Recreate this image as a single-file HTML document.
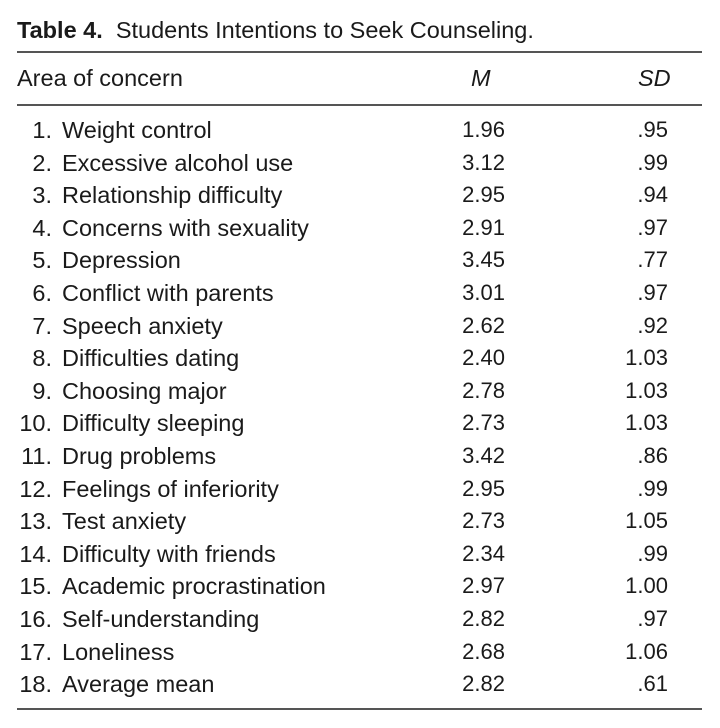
<!DOCTYPE html>
<html><head><style>
body{margin:0;width:720px;height:728px;background:#fff;position:relative;font-family:"Liberation Sans",sans-serif;color:#1a1a1a;overflow:hidden}
.t{position:absolute;font-size:23.5px;line-height:32px;white-space:nowrap}
.r{position:absolute;left:17px;width:685px;height:2px;background:#555}
.n{text-align:right;width:40px;left:12px}
.m{text-align:right;width:80px;left:425px;font-size:22px}
.s{text-align:right;width:80px;left:588px;font-size:22px}
</style></head><body>
<div class="t" style="left:17px;top:14px;font-size:23.5px"><b>Table 4.</b>&nbsp; Students Intentions to Seek Counseling.</div>
<div class="r" style="top:51px"></div>
<div class="t" style="left:17px;top:62px">Area of concern</div>
<div class="t" style="left:471px;top:62px;font-style:italic">M</div>
<div class="t" style="left:638px;top:62px;font-style:italic">SD</div>
<div class="r" style="top:104px"></div>
<div id="rows"></div>
<div class="r" style="top:708px"></div>
<script>
var d=[["Weight control","1.96",".95"],["Excessive alcohol use","3.12",".99"],["Relationship difficulty","2.95",".94"],["Concerns with sexuality","2.91",".97"],["Depression","3.45",".77"],["Conflict with parents","3.01",".97"],["Speech anxiety","2.62",".92"],["Difficulties dating","2.40","1.03"],["Choosing major","2.78","1.03"],["Difficulty sleeping","2.73","1.03"],["Drug problems","3.42",".86"],["Feelings of inferiority","2.95",".99"],["Test anxiety","2.73","1.05"],["Difficulty with friends","2.34",".99"],["Academic procrastination","2.97","1.00"],["Self-understanding","2.82",".97"],["Loneliness","2.68","1.06"],["Average mean","2.82",".61"]];
var h="";
d.forEach(function(r,i){var y=114+i*32.6;
h+='<div class="t n" style="top:'+y+'px">'+(i+1)+'.</div><div class="t" style="left:62px;top:'+y+'px">'+r[0]+'</div><div class="t m" style="top:'+y+'px">'+r[1]+'</div><div class="t s" style="top:'+y+'px">'+r[2]+'</div>';});
document.getElementById("rows").innerHTML=h;
</script>
</body></html>
